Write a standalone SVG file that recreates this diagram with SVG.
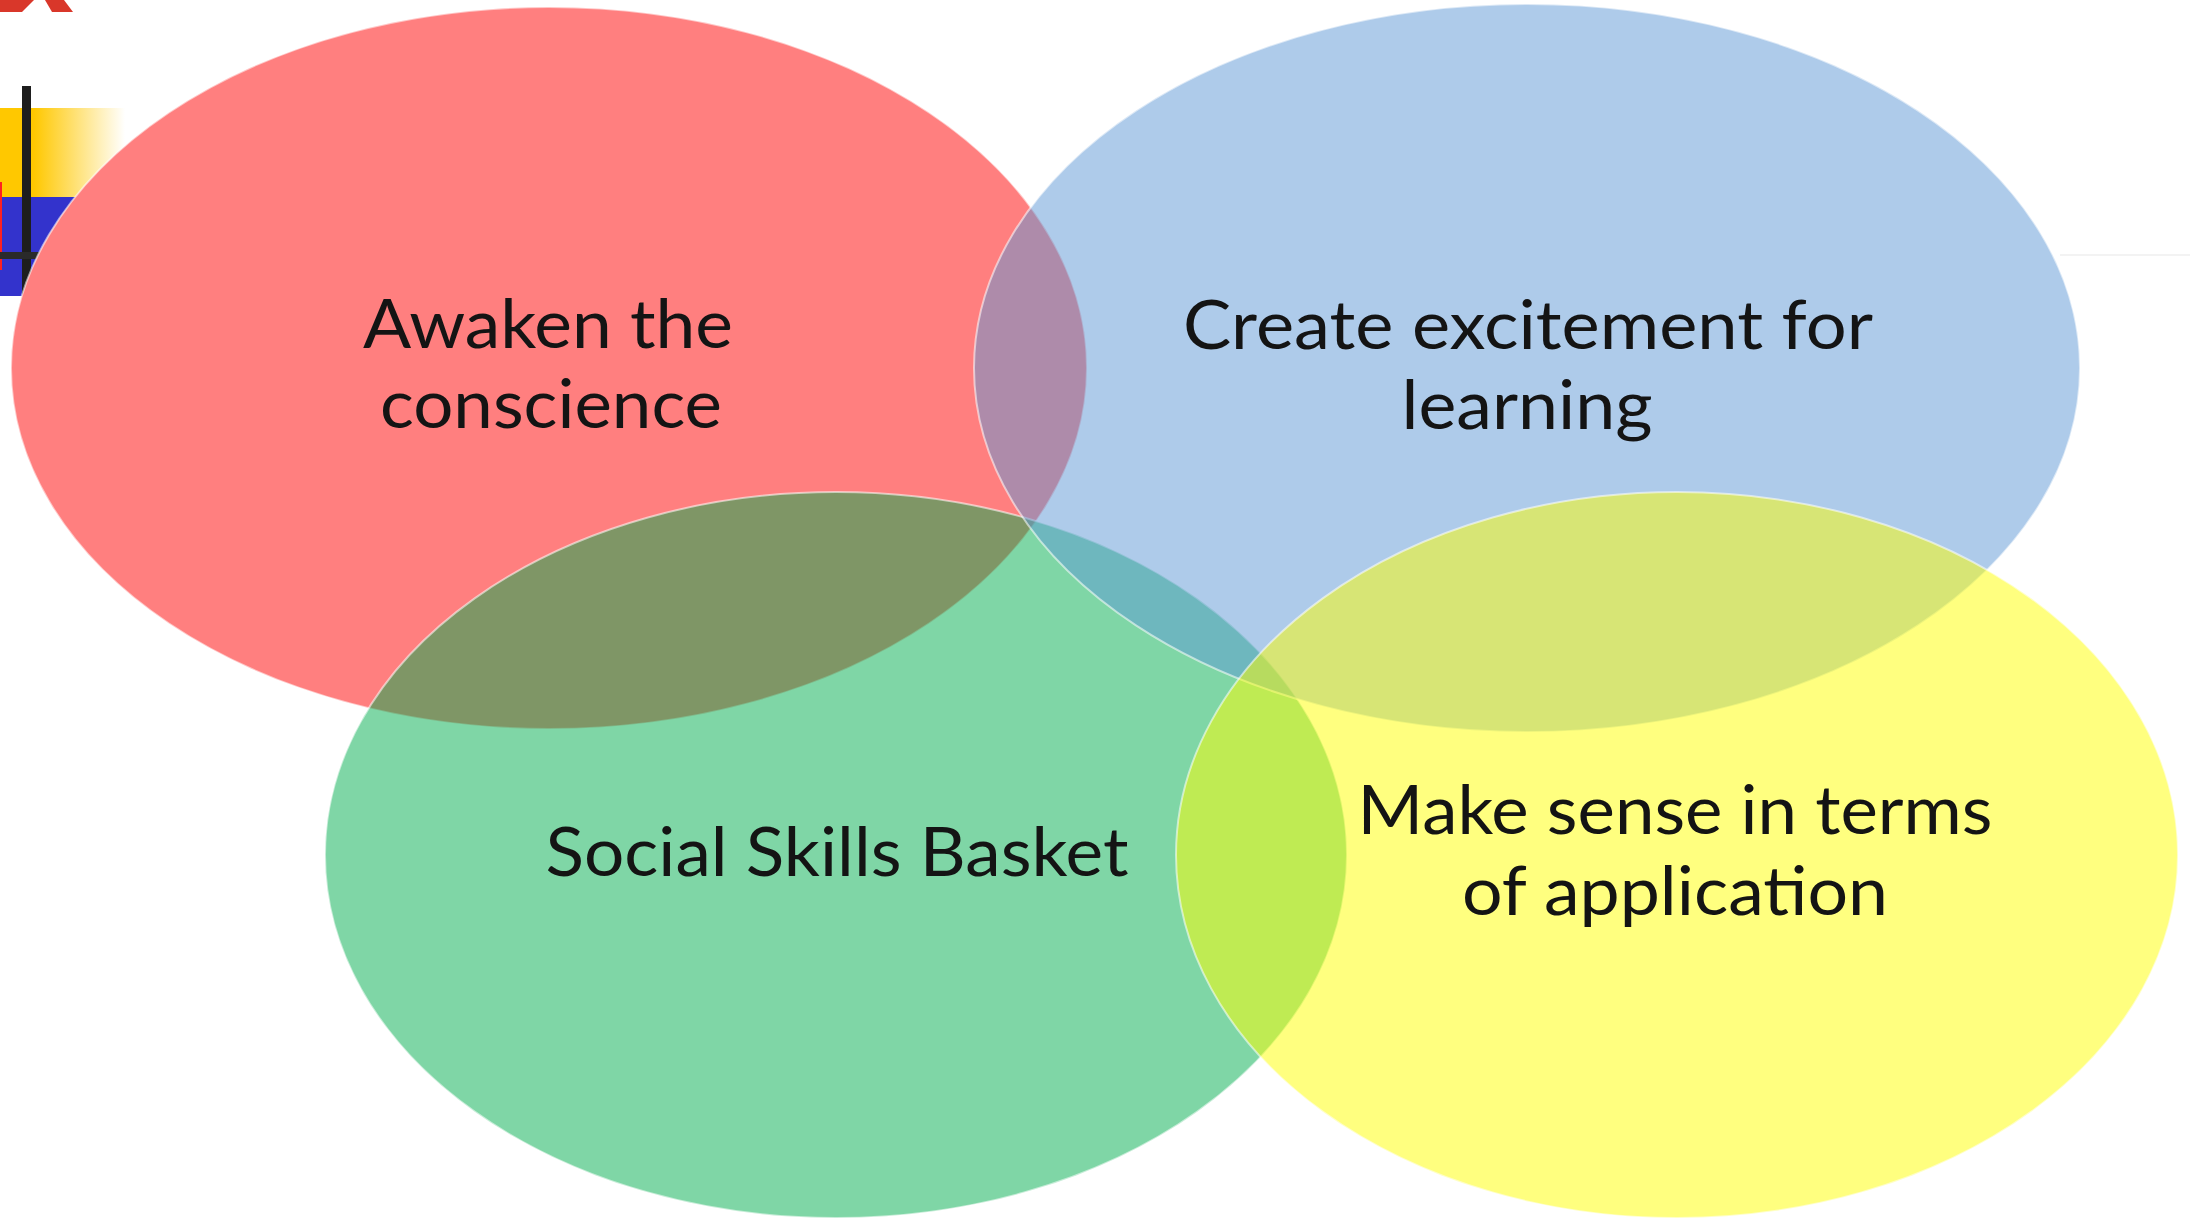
<svg xmlns="http://www.w3.org/2000/svg" width="2190" height="1225" viewBox="0 0 2190 1225">
<style>
.lbl{font-family:Lato,"Noto Sans","Liberation Sans",sans-serif;font-size:68px;fill:#141414;text-anchor:middle}
.bg{fill:#ffffff}
.circ{stroke:#ffffff;stroke-width:2;stroke-opacity:0.55}
</style>
<defs>
<linearGradient id="yg" x1="0" y1="0" x2="1" y2="0" gradientUnits="objectBoundingBox">
<stop offset="0" stop-color="#FFC800"/>
<stop offset="0.27" stop-color="#FFC800"/>
<stop offset="1" stop-color="#FFFFFF"/>
</linearGradient>
</defs>
<rect width="2190" height="1225" fill="#ffffff"/>
<g id="template-corner">
<polygon points="0,0 34,0 22,12 0,12" fill="#D9372A"/>
<polygon points="45,0 64,0 73,12 52,12" fill="#D9372A"/>
<rect x="0" y="108" width="125" height="89" fill="url(#yg)"/>
<rect x="0" y="197" width="90" height="99" fill="#3333CC"/>
<rect x="0" y="182" width="2" height="88" fill="#FF2020"/>
<rect x="22" y="86" width="9" height="210" fill="#1E1E1E"/>
<rect x="0" y="252" width="45" height="7" fill="#2A2A2A"/>
<rect x="2060" y="254" width="130" height="2" fill="#F3F3F3"/>
</g>
<g id="underlay">
<ellipse class="bg" cx="549" cy="368" rx="538" ry="361"/>
<ellipse class="bg" cx="1527" cy="368" rx="553" ry="364"/>
<ellipse class="bg" cx="836" cy="855" rx="511" ry="363"/>
<ellipse class="bg" cx="1677" cy="855" rx="501" ry="363"/>
</g>
<g id="node-awaken">
<ellipse class="circ" cx="549" cy="368" rx="538" ry="361" fill="#FF0000" fill-opacity="0.5"/>
</g>
<g id="node-social">
<ellipse class="circ" cx="836" cy="855" rx="511" ry="363" fill="#00AD4D" fill-opacity="0.5"/>
</g>
<g id="node-create">
<ellipse class="circ" cx="1527" cy="368" rx="553" ry="364" fill="#5D97D5" fill-opacity="0.5"/>
</g>
<g id="node-make">
<ellipse class="circ" cx="1677" cy="855" rx="501" ry="363" fill="#FFFF00" fill-opacity="0.5"/>
</g>
<g id="labels">
<text class="lbl" x="548" y="348" textLength="370" lengthAdjust="spacingAndGlyphs">Awaken the</text>
<text class="lbl" x="551" y="428" textLength="342" lengthAdjust="spacingAndGlyphs">conscience</text>
<text class="lbl" x="1528" y="349" textLength="690" lengthAdjust="spacingAndGlyphs">Create excitement for</text>
<text class="lbl" x="1527" y="429" textLength="251" lengthAdjust="spacingAndGlyphs">learning</text>
<text class="lbl" x="837" y="876" textLength="583" lengthAdjust="spacingAndGlyphs">Social Skills Basket</text>
<text class="lbl" x="1675" y="834" textLength="635" lengthAdjust="spacingAndGlyphs">Make sense in terms</text>
<text class="lbl" x="1675" y="915" textLength="426" lengthAdjust="spacingAndGlyphs">of application</text>
</g>
<g id="connectors"/>
</svg>
